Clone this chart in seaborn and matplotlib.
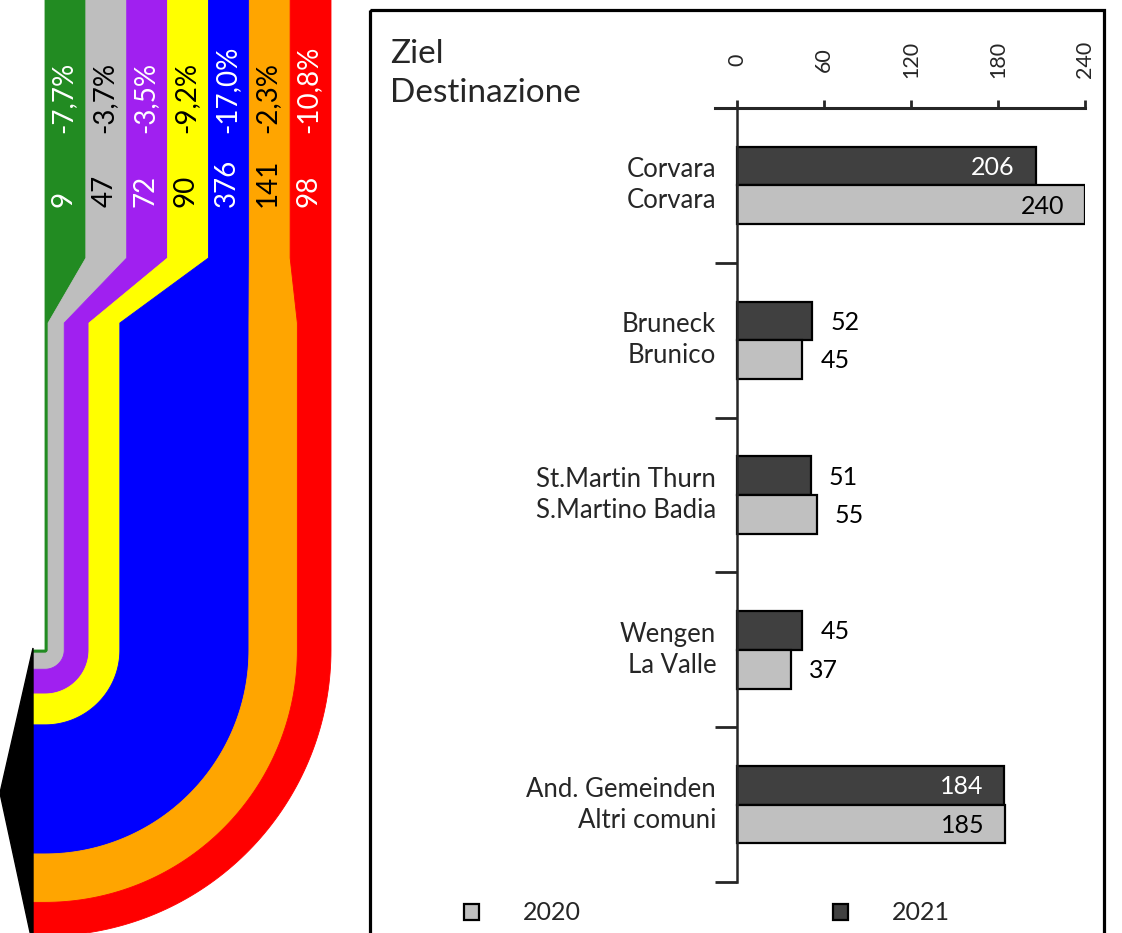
import numpy as np
import pandas as pd
import seaborn as sns
import matplotlib.pyplot as plt
from matplotlib.patches import Polygon, Rectangle

# Herkunft (linke Flussgrafik)
herkunft_werte = [9, 47, 72, 90, 376, 141, 98]
herkunft_prozent = ['-7,7%', '-3,7%', '-3,5%', '-9,2%', '-17,0%', '-2,3%', '-10,8%']
band_farben = ['#228b22', '#bebebe', '#a020f0', '#ffff00', '#0000ff', '#ffa500', '#ff0000']
text_farben = ['white', 'black', 'white', 'black', 'white', 'black', 'white']

# Ziel / Destinazione (Balken)
orte = ['Corvara\nCorvara', 'Bruneck\nBrunico', 'St.Martin Thurn\nS.Martino Badia',
        'Wengen\nLa Valle', 'And. Gemeinden\nAltri comuni']
werte_2021 = [206, 52, 51, 45, 184]
werte_2020 = [240, 45, 55, 37, 185]
jahre = ['2021', '2020']
x_ticks = [0, 60, 120, 180, 240]

sns.set_style('white')
plt.rcParams['font.family'] = ['Lato', 'DejaVu Sans']

W, H = 1122, 933
fig = plt.figure(figsize=(W / 100, H / 100), dpi=100)

# 1. Hintergrund-Achse in Pixelkoordinaten
ax0 = fig.add_axes([0, 0, 1, 1])
ax0.set_xlim(0, W)
ax0.set_ylim(H, 0)
ax0.axis('off')

# 2. Baender: oben gleich breit, unten proportional zum Wert
links, rechts = 45, 331
y_knick1, y_knick2 = 258, 323
cx, cy, x_ende = 45, 650, 33
n = len(herkunft_werte)
top_b = (rechts - links) / n
skala = (rechts - links) / sum(herkunft_werte)
kum = np.concatenate([[0], np.cumsum(herkunft_werte)]) * skala + links
t = np.linspace(0, np.pi / 2, 80)
for i in range(n):
    tl, tr = links + i * top_b, links + (i + 1) * top_b
    ll, lr = kum[i], kum[i + 1]
    ri, ro = ll - cx, lr - cx
    aussen = [(cx + ro * np.cos(a), cy + ro * np.sin(a)) for a in t]
    innen = [(cx + ri * np.cos(a), cy + ri * np.sin(a)) for a in t[::-1]]
    pts = [(tl, -5), (tr, -5), (tr, y_knick1), (lr, y_knick2)] + aussen + \
          [(x_ende, cy + ro), (x_ende, cy + ri)] + innen + [(ll, y_knick2), (tl, y_knick1)]
    ax0.add_patch(Polygon(pts, closed=True, facecolor=band_farben[i],
                          edgecolor=band_farben[i], linewidth=0.6))
    xm = (tl + tr) / 2 - 2
    ax0.text(xm, 207, str(herkunft_werte[i]), rotation=90, rotation_mode='anchor',
             ha='left', va='center', fontsize=20, color=text_farben[i])
    ax0.text(xm, 133, herkunft_prozent[i], rotation=90, rotation_mode='anchor',
             ha='left', va='center', fontsize=20, color=text_farben[i])

# Pfeil
r_max = kum[-1] - cx
ax0.add_patch(Polygon([(x_ende, cy - 2), (0, cy + r_max / 2), (x_ende, cy + r_max + 10)],
                      closed=True, facecolor='black', edgecolor='black'))

# Rahmen rechts
ax0.add_patch(Rectangle((370, 10), 734, 960, fill=False, edgecolor='black', linewidth=2.3))
ax0.text(390, 63, 'Ziel', fontsize=24, ha='left', va='baseline')
ax0.text(390, 102, 'Destinazione', fontsize=24, ha='left', va='baseline')

# 3. Balkendiagramm
df = pd.DataFrame({
    'Ort': orte * 2,
    'Jahr': ['2021'] * len(orte) + ['2020'] * len(orte),
    'Wert': werte_2021 + werte_2020,
})
ax = fig.add_axes([715 / W, (H - 882) / H, 370 / W, 774 / H])
ax.patch.set_alpha(0)
sns.barplot(data=df, y='Ort', x='Wert', hue='Jahr', hue_order=jahre, order=orte,
            palette={'2021': '#404040', '2020': '#c0c0c0'}, orient='h', width=0.5,
            edgecolor='black', linewidth=1.6, ax=ax)
ax.set_xlim(-15.2, 240)
ax.set_ylim(4.5, -0.5)
ax.set_xlabel('')
ax.set_ylabel('')

ax.spines['left'].set_position(('data', 0))
ax.spines['right'].set_visible(False)
ax.spines['bottom'].set_visible(False)
ax.spines['top'].set_linewidth(2.2)
ax.spines['left'].set_linewidth(1.8)

ax.xaxis.tick_top()
ax.set_xticks(x_ticks)
ax.tick_params(axis='x', top=True, direction='out', length=6, width=2, labelsize=15.5,
               pad=29, labelrotation=90)
for lab in ax.get_xticklabels():
    lab.set_va('center')

ax.set_yticks(range(len(orte)))
ax.set_yticklabels(orte, fontsize=18.5, linespacing=1.3)
ax.tick_params(axis='y', which='major', left=True, length=0, pad=15)
ax.set_yticks(np.arange(-0.5, len(orte), 1), minor=True)
ax.tick_params(axis='y', which='minor', left=True, length=16, width=2, direction='out')
for lab in ax.get_yticklabels():
    lab.set_va('center')

# Wertbeschriftung
for cont, jahr in zip(ax.containers, jahre):
    for bar in cont:
        w = bar.get_width()
        yc = bar.get_y() + bar.get_height() / 2
        if w > 100:
            farbe = 'white' if jahr == '2021' else 'black'
            ax.annotate(f'{w:.0f}', (w, yc), xytext=(-15, -1), textcoords='offset points',
                        ha='right', va='center', fontsize=18, color=farbe)
        else:
            ax.annotate(f'{w:.0f}', (w, yc), xytext=(13, -1), textcoords='offset points',
                        ha='left', va='center', fontsize=18, color='black')

# Legende 2020 / 2021
handles, labels = ax.get_legend_handles_labels()
ax.legend_.remove()
ordnung = [labels.index('2020'), labels.index('2021')]
fig.legend([handles[k] for k in ordnung], [labels[k] for k in ordnung],
           loc='center left', bbox_to_anchor=(464 / W, 1 - 913 / H), ncol=2,
           frameon=False, fontsize=18, handlelength=0.6, handleheight=0.6,
           handletextpad=1.75, columnspacing=10.1, borderpad=0, borderaxespad=0)

fig.savefig('out.png', dpi=100)
